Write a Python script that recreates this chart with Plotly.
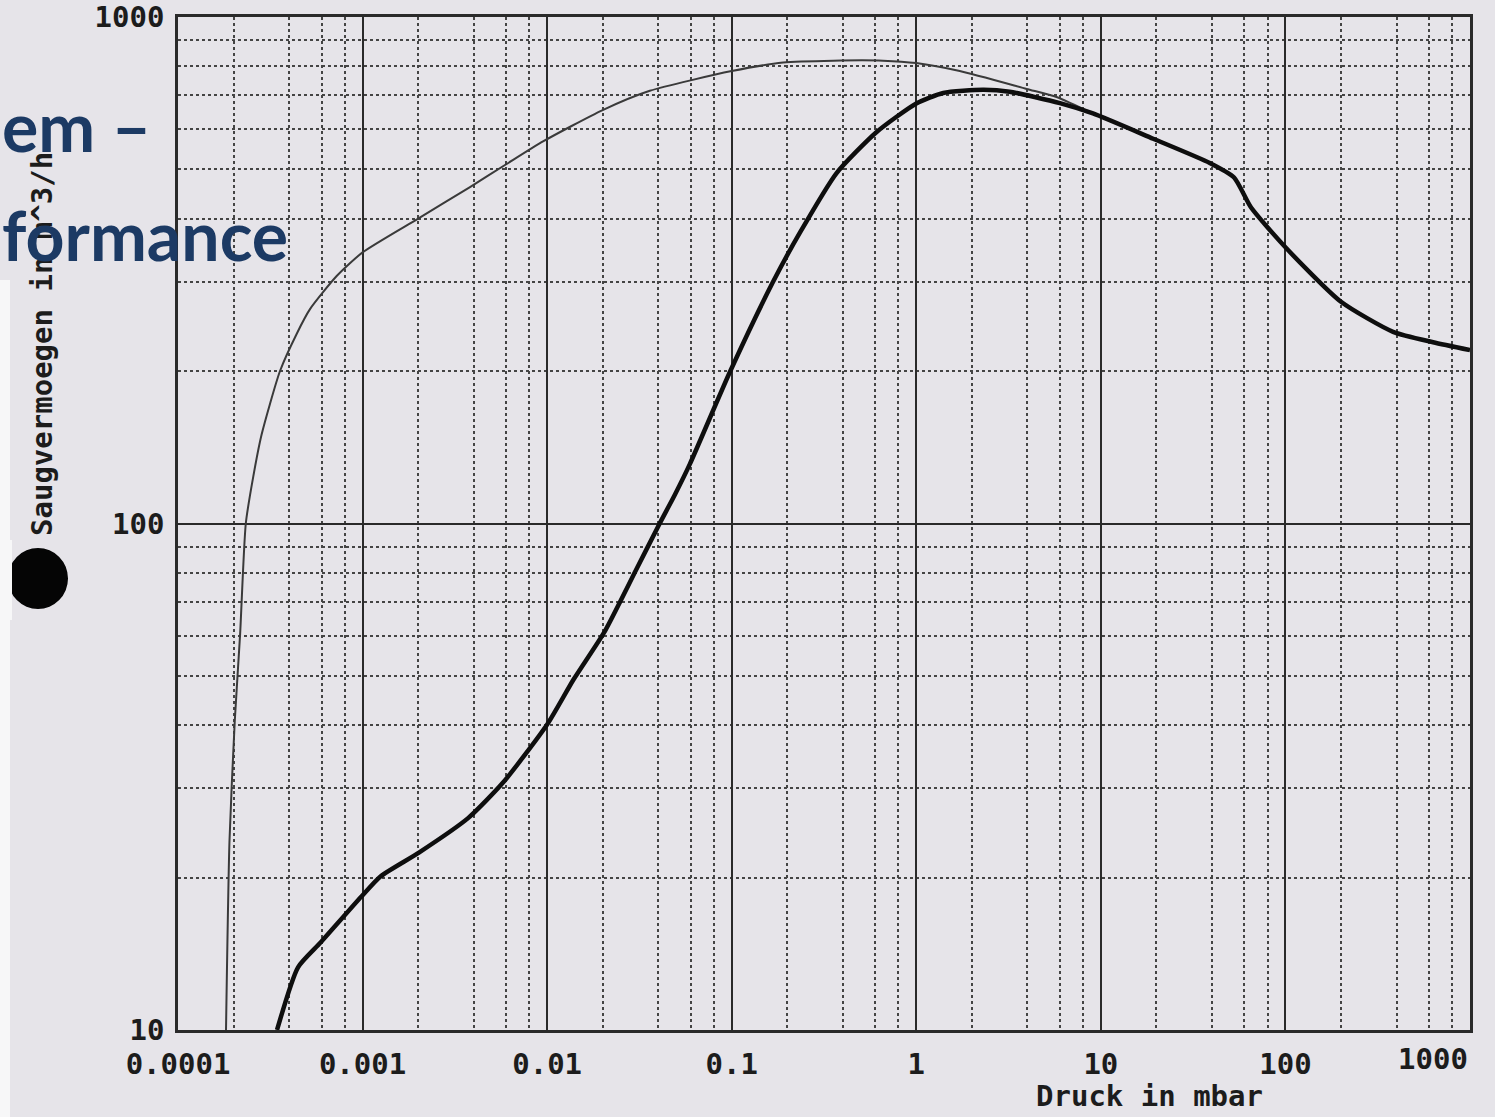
import plotly.graph_objects as go

# ---- data ----
thin_x = [1.82e-4, 1.9e-4, 2.03e-4, 2.17e-4, 2.33e-4, 2.56e-4, 2.84e-4, 3.57e-4,
          4.4e-4, 5.19e-4, 7.24e-4, 1e-3, 2e-3, 3.8e-3, 6e-3, 9.5e-3, 0.02,
          0.036, 0.1, 0.19, 0.355, 0.66, 1.0, 1.72, 3.96, 5.75, 9.0]
thin_y = [10, 23.5, 40.7, 60.4, 100, 124, 150, 200,
          237, 265, 308, 343, 400, 461, 512, 568, 655,
          715, 782, 813, 820, 820, 811, 782, 721, 695, 645]

thick_x = [3.44e-4, 4.47e-4, 5.94e-4, 9.8e-4, 1.25e-3, 2.02e-3, 3.73e-3, 5.77e-3,
           0.01, 0.0139, 0.0206, 0.0305, 0.0407, 0.0492, 0.0593, 0.0983, 0.1675,
           0.235, 0.37, 0.61, 1.0, 1.4, 2.3, 3.2, 6.0, 9.06, 19.2, 38.9, 52.7,
           65, 100, 200, 383, 631, 1000]
thick_y = [10, 13.3, 14.9, 18.3, 20.1, 22.4, 26.2, 30.8,
           40.1, 49.2, 61.4, 81.3, 100, 114, 131, 200, 300,
           376, 492, 593, 675, 708, 718, 712, 676, 645, 575, 515, 482,
           421, 351, 274, 239, 228, 220]

x_tick_vals = [1e-4, 1e-3, 1e-2, 1e-1, 1, 10, 100]
x_tick_text = ["0.0001", "0.001", "0.01", "0.1", "1", "10", "100"]
x_last_tick = "1000"
y_tick_vals = [10, 100, 1000]
y_tick_text = ["10", "100", "1000"]
x_minor = [m * 10.0 ** e for e in range(-4, 3) for m in (2, 4, 6, 8)]
y_minor = [m * 10.0 ** e for e in range(1, 3) for m in range(2, 10)]

x_title = "Druck in mbar"
y_title = "Saugvermoegen in m^3/h"
overlay_1 = "em –"
overlay_2 = "formance"

# ---- figure ----
W, H = 1495, 1117
L, R, T, B = 178, 25, 17, 87
PW, PH = W - L - R, H - T - B

def px(xp):
    return (xp - L) / PW

def py(yp):
    return (H - B - yp) / PH

BG = "#e6e4e9"
GRID = "#2a2a2a"
MONO = dict(family="DejaVu Sans Mono", size=29, color="#1c1c1c", weight="bold")
BLUE = dict(family="Lato", size=68, color="#1c3a64", weight="bold")

fig = go.Figure()
fig.add_trace(go.Scatter(x=thin_x, y=thin_y, mode="lines",
                         line=dict(color="#3a3a3a", width=2, shape="spline", smoothing=0.6),
                         hoverinfo="skip", showlegend=False))
fig.add_trace(go.Scatter(x=thick_x, y=thick_y, mode="lines",
                         line=dict(color="#0e0e0e", width=4.5, shape="spline", smoothing=0.6),
                         hoverinfo="skip", showlegend=False))

fig.update_layout(
    width=W, height=H,
    margin=dict(l=L, r=R, t=T, b=B, autoexpand=False),
    paper_bgcolor=BG, plot_bgcolor=BG,
    showlegend=False,
    xaxis=dict(type="log", range=[-4, 3], tickmode="array",
               tickvals=x_tick_vals, ticktext=x_tick_text, tickfont=MONO,
               ticks="", ticklabelstandoff=6,
               showgrid=True, gridcolor=GRID, gridwidth=2,
               minor=dict(tickmode="array", tickvals=x_minor, showgrid=True,
                          gridcolor="#444444", gridwidth=1.5, griddash="dot", ticks=""),
               showline=True, mirror=True, linecolor=GRID, linewidth=2.5,
               zeroline=False, automargin=False, fixedrange=True),
    yaxis=dict(type="log", range=[1, 3], tickmode="array",
               tickvals=y_tick_vals, ticktext=y_tick_text, tickfont=MONO,
               ticks="", ticklabelstandoff=5,
               showgrid=True, gridcolor=GRID, gridwidth=2,
               minor=dict(tickmode="array", tickvals=y_minor, showgrid=True,
                          gridcolor="#444444", gridwidth=1.5, griddash="dot", ticks=""),
               showline=True, mirror=True, linecolor=GRID, linewidth=2.5,
               zeroline=False, automargin=False, fixedrange=True),
)

annotations = [
    dict(text=x_last_tick, xref="x", x=3, xanchor="right", yref="paper",
         y=py(1059), yanchor="middle", showarrow=False, font=MONO),
    dict(text=x_title, xref="paper", x=px(1149), xanchor="center", yref="paper",
         y=py(1096), yanchor="middle", showarrow=False, font=MONO),
    dict(text=y_title, xref="paper", x=px(42), xanchor="center", yref="paper",
         y=py(344), yanchor="middle", showarrow=False, textangle=-90, font=MONO),
    dict(text=overlay_1, xref="paper", x=px(0), xanchor="left", yref="paper",
         y=py(126), yanchor="middle", showarrow=False, font=BLUE),
    dict(text=overlay_2, xref="paper", x=px(0), xanchor="left", yref="paper",
         y=py(234), yanchor="middle", showarrow=False, font=BLUE),
]
fig.update_layout(annotations=annotations)

shapes = [
    dict(type="rect", xref="paper", yref="paper", x0=px(0), x1=px(10), y0=py(H), y1=py(280),
         fillcolor="#f7f7f8", line=dict(width=0), layer="below"),
    dict(type="circle", xref="paper", yref="paper", x0=px(8), x1=px(68), y0=py(609), y1=py(548),
         fillcolor="#050505", line=dict(width=0), layer="above"),
    dict(type="rect", xref="paper", yref="paper", x0=px(0), x1=px(12), y0=py(620), y1=py(540),
         fillcolor="#f7f7f8", line=dict(width=0), layer="above"),
]
fig.update_layout(shapes=shapes)

fig.write_html("out.html", config={"displayModeBar": False},
               post_script="document.body.style.margin='0';document.body.style.padding='0';")
